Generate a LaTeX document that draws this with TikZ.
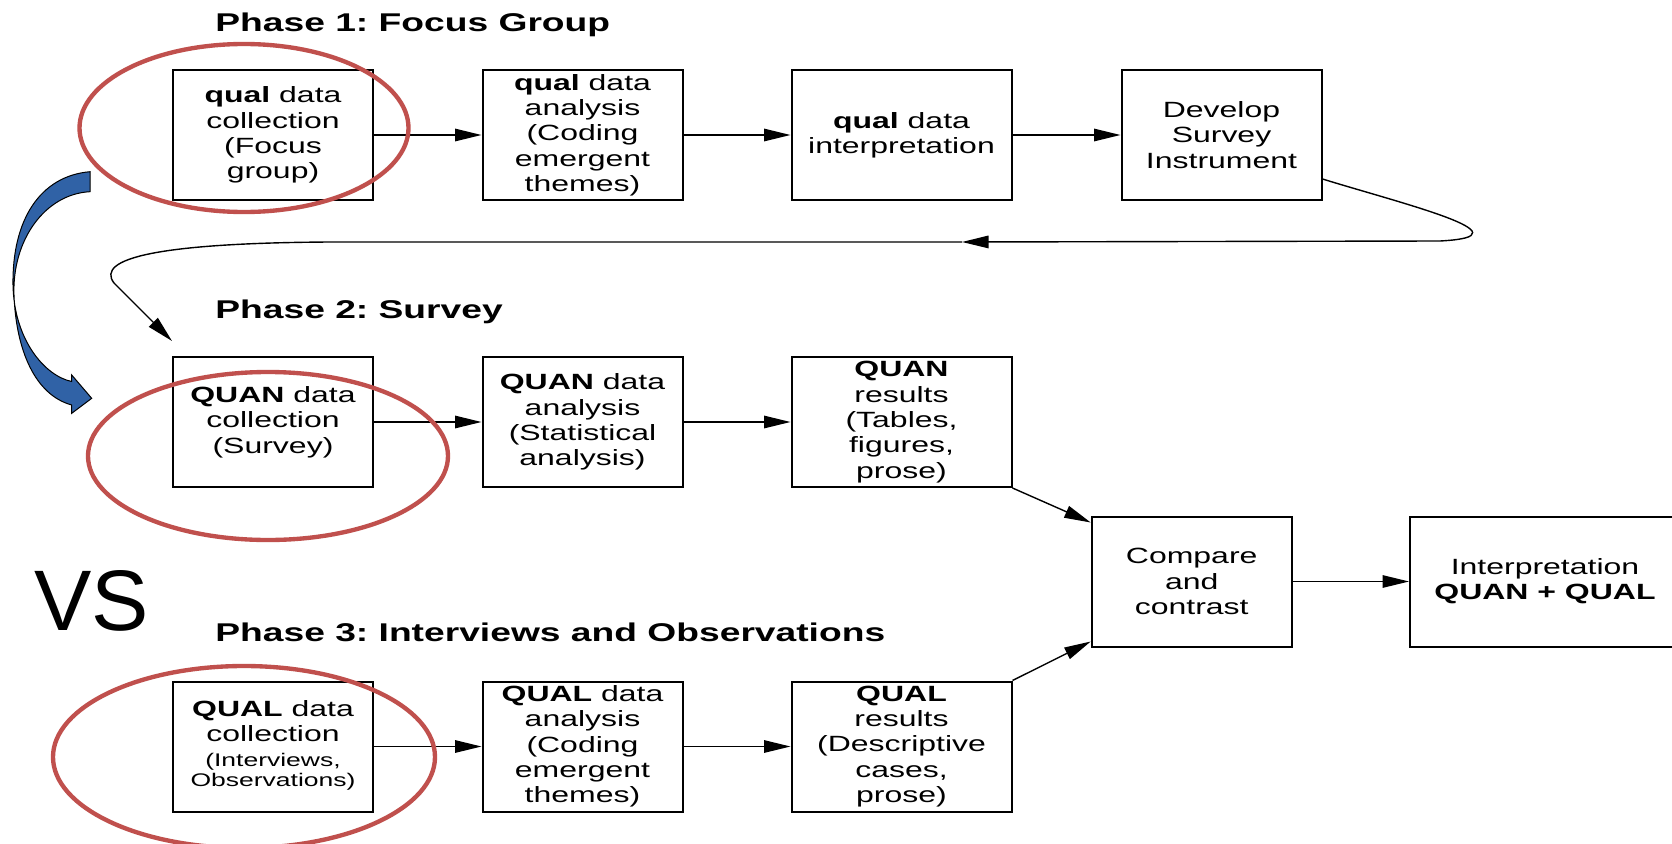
\documentclass[tikz,border=0pt]{standalone}
\usepackage{fontspec}
\setmainfont{Liberation Sans}[FakeStretch=1.45]
\newfontfamily\vsfont{Liberation Sans}
\usetikzlibrary{calc,arrows.meta}
\definecolor{ringred}{RGB}{192,80,77}
\definecolor{turnblue}{RGB}{48,98,166}
\newcommand{\boxfont}{\fontsize{12.55}{14.4}\selectfont}
\newcommand{\phasefont}{\bfseries\fontsize{14.6}{17}\selectfont}
\newcommand{\smalltxt}{\fontsize{10.4}{11.3}\selectfont}
\frenchspacing

\begin{document}
\begin{tikzpicture}[x=0.2mm, y=-0.2mm, >={Triangle[length=5.3mm,width=2.5mm]},
  box/.style={draw, line width=0.4mm, minimum width=40mm, minimum height=26mm,
    inner sep=0pt, align=center, font=\boxfont},
  widebox/.style={box, minimum width=44mm},
  phase/.style={anchor=base west, inner sep=0pt, font=\phasefont},
  link/.style={->, line width=0.28mm},
  ring/.style={draw=ringred, line width=0.87mm}]
  \useasboundingbox[fill=white] (0,0) rectangle (1672,844);

  \node[phase] (p1) at (215,31.7) {Phase 1: Focus Group};
  \node[phase] (p2) at (215,318.3) {Phase 2: Survey};
  \node[phase] (p3) at (215,641.7) {Phase 3: Interviews and Observations};
  \node[anchor=base west, inner sep=0pt, font=\vsfont\fontsize{48.9}{50}\selectfont] (vs) at (34,630) {VS};

  \node[box] (b11) at (273,135) {\textbf{qual} data\\collection\\(Focus\\group)};
  \node[box] (b12) at (582.5,135) {\textbf{qual} data\\analysis\\(Coding\\emergent\\themes)};
  \node[widebox] (b13) at (901.5,135) {\textbf{qual} data\\interpretation};
  \node[box] (b14) at (1221.5,135) {Develop\\Survey\\Instrument};

  \node[box] (b21) at (273,422) {\textbf{QUAN} data\\collection\\(Survey)};
  \node[box] (b22) at (582.5,422) {\textbf{QUAN} data\\analysis\\(Statistical\\analysis)};
  \node[widebox] (b23) at (901.5,422) {\textbf{QUAN}\\results\\(Tables,\\figures,\\prose)};

  \node[box] (b31) at (273,746.5) {\textbf{QUAL} data\\collection\\{\smalltxt\begin{tabular}[t]{@{}c@{}}(Interviews,\\Observations)\end{tabular}}};
  \node[box] (b32) at (582.5,746.5) {\textbf{QUAL} data\\analysis\\(Coding\\emergent\\themes)};
  \node[widebox] (b33) at (901.5,746.5) {\textbf{QUAL}\\results\\(Descriptive\\cases,\\prose)};

  \node[box] (cmp) at (1191.7,581.5) {Compare\\and\\contrast};
  \node[box, minimum width=54mm] (int) at (1545,581.5) {Interpretation\\\textbf{QUAN + QUAL}};

  \draw[link] (b11) -- (b12);
  \draw[link] (b12) -- (b13);
  \draw[link] (b13) -- (b14);
  \draw[link] (b21) -- (b22);
  \draw[link] (b22) -- (b23);
  \draw[link] (b31) -- (b32);
  \draw[link] (b32) -- (b33);
  \draw[link] (b23.south east) -- ($(cmp.north west)+(0,7)$);
  \draw[link] (b33.north east) -- ($(cmp.south west)+(0,-6)$);
  \draw[link] (cmp) -- (int);

  \coordinate (turn) at (962,242);
  \draw[link] ($(b14.south east)+(0,-22)$) .. controls (1400,203) and (1535,236) .. (1440,241) -- (turn);
  \draw[link] (turn) -- (330,242) .. controls (160,243) and (95,258) .. (114,283)
    -- ($(b21.north west)+(0,-15)$);

  \draw[ring] (244,128) ellipse (164.5 and 84);
  \draw[ring] (268,456) ellipse (180 and 84);
  \draw[ring] (244,757) ellipse (191 and 91);

  \filldraw[fill=turnblue, draw=black, line width=0.2mm]
    (90,171.7) .. controls (40,176) and (12,220) .. (13,285)
    .. controls (14,340) and (45,376) .. (71.7,381.5)
    -- (71.7,375) -- (91.7,398.3) -- (71.7,413.3) -- (71.7,405)
    .. controls (35,395) and (16,350) .. (14,295)
    .. controls (12,240) and (45,194) .. (90,191.7) -- cycle;
\end{tikzpicture}
\end{document}
